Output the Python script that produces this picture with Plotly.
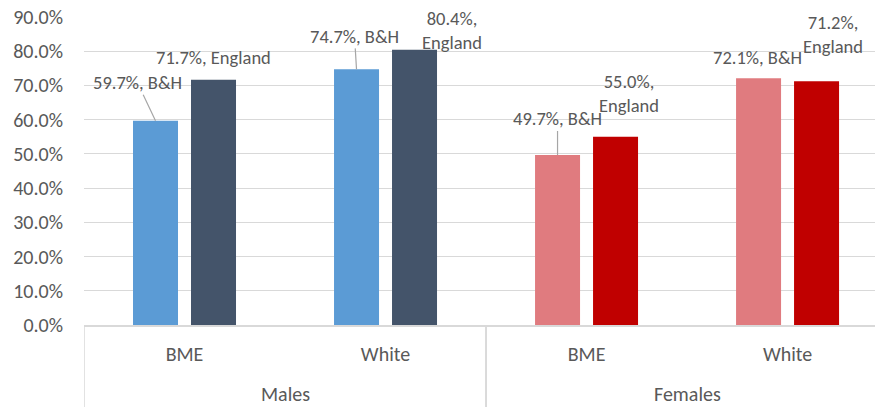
import plotly.graph_objects as go

# ---- data ----
groups = ["Males", "Males", "Females", "Females"]
subgroups = ["BME", "White", "BME", "White"]
bh_values = [59.7, 74.7, 49.7, 72.1]
eng_values = [71.7, 80.4, 55.0, 71.2]
bh_labels = ["59.7%, B&H", "74.7%, B&H", "49.7%, B&H", "72.1%, B&H"]
eng_labels = ["71.7%, England", "80.4%,<br>England", "55.0%,<br>England", "71.2%,<br>England"]
y_ticks = [0, 10, 20, 30, 40, 50, 60, 70, 80, 90]

# ---- style ----
bh_colors = ["#5B9BD5", "#5B9BD5", "#E07B7F", "#E07B7F"]
eng_colors = ["#44546A", "#44546A", "#C00000", "#C00000"]
text_color = "#595959"
grid_color = "#D9D9D9"
font_family = "Carlito, Calibri, Lato, sans-serif"
label_size = 18.5
axis_size = 20

# label offsets (px) relative to bar top centre, and whether a leader line is drawn
bh_offsets = [(-18, -38, True), (-2, -33, True), (0, -36, True), (-1, -21, False)]
eng_offsets = [(0, -22, False), (37, -19, False), (13, -43, False), (16, -47, False)]
bar_shift = 29

xpos = list(range(len(subgroups)))

fig = go.Figure()
fig.add_trace(go.Bar(x=xpos, y=bh_values, name="B&H",
                     marker=dict(color=bh_colors, line=dict(width=0))))
fig.add_trace(go.Bar(x=xpos, y=eng_values, name="England",
                     marker=dict(color=eng_colors, line=dict(width=0))))

annotations = []
for i in xpos:
    for vals, labels, offs, sh in ((bh_values, bh_labels, bh_offsets, -bar_shift),
                                   (eng_values, eng_labels, eng_offsets, bar_shift)):
        dx, dy, leader = offs[i]
        annotations.append(dict(
            x=i, y=vals[i], xref="x", yref="y", xshift=sh,
            text=labels[i], showarrow=True, axref="pixel", ayref="pixel",
            ax=dx, ay=dy, arrowhead=0, arrowwidth=1.2, standoff=0,
            arrowcolor="#A6A6A6" if leader else "rgba(0,0,0,0)",
            font=dict(family=font_family, size=label_size, color=text_color),
            borderpad=0,
        ))

# group labels and dividers for the two-level category axis
shapes = []
group_names = list(dict.fromkeys(groups))
for g in group_names:
    idx = [i for i, gg in enumerate(groups) if gg == g]
    annotations.append(dict(
        x=sum(idx) / len(idx), y=0, xref="x", yref="paper", yanchor="middle",
        yshift=-69, text=g, showarrow=False,
        font=dict(family=font_family, size=20, color=text_color),
    ))
    for b in (idx[0] - 0.5, idx[-1] + 0.5):
        shapes.append(dict(type="line", xref="x", yref="paper", x0=b, x1=b,
                           y0=0, y1=-0.3, line=dict(color=grid_color, width=1.5)))

fig.update_layout(
    width=875, height=407,
    margin=dict(l=84, r=0, t=17, b=82),
    paper_bgcolor="white", plot_bgcolor="white",
    showlegend=False,
    barmode="group", bargap=0.423, bargroupgap=0.224,
    font=dict(family=font_family, size=label_size, color=text_color),
    annotations=annotations,
    shapes=shapes,
    xaxis=dict(
        range=[-0.5, 3.435], tickvals=xpos, ticktext=subgroups,
        showline=True, linecolor=grid_color, linewidth=1.5,
        ticks="", ticklabelstandoff=10,
        tickfont=dict(family=font_family, size=20, color=text_color),
        showgrid=False, zeroline=False,
    ),
    yaxis=dict(
        range=[0, 90], tickvals=y_ticks, ticktext=[f"{v:.1f}%" for v in y_ticks],
        showgrid=True, gridcolor=grid_color, gridwidth=1.2,
        zeroline=False, showline=False, ticks="",
        ticklabelstandoff=20,
        tickfont=dict(family=font_family, size=axis_size, color=text_color),
    ),
)

fig.write_html("out.html")
